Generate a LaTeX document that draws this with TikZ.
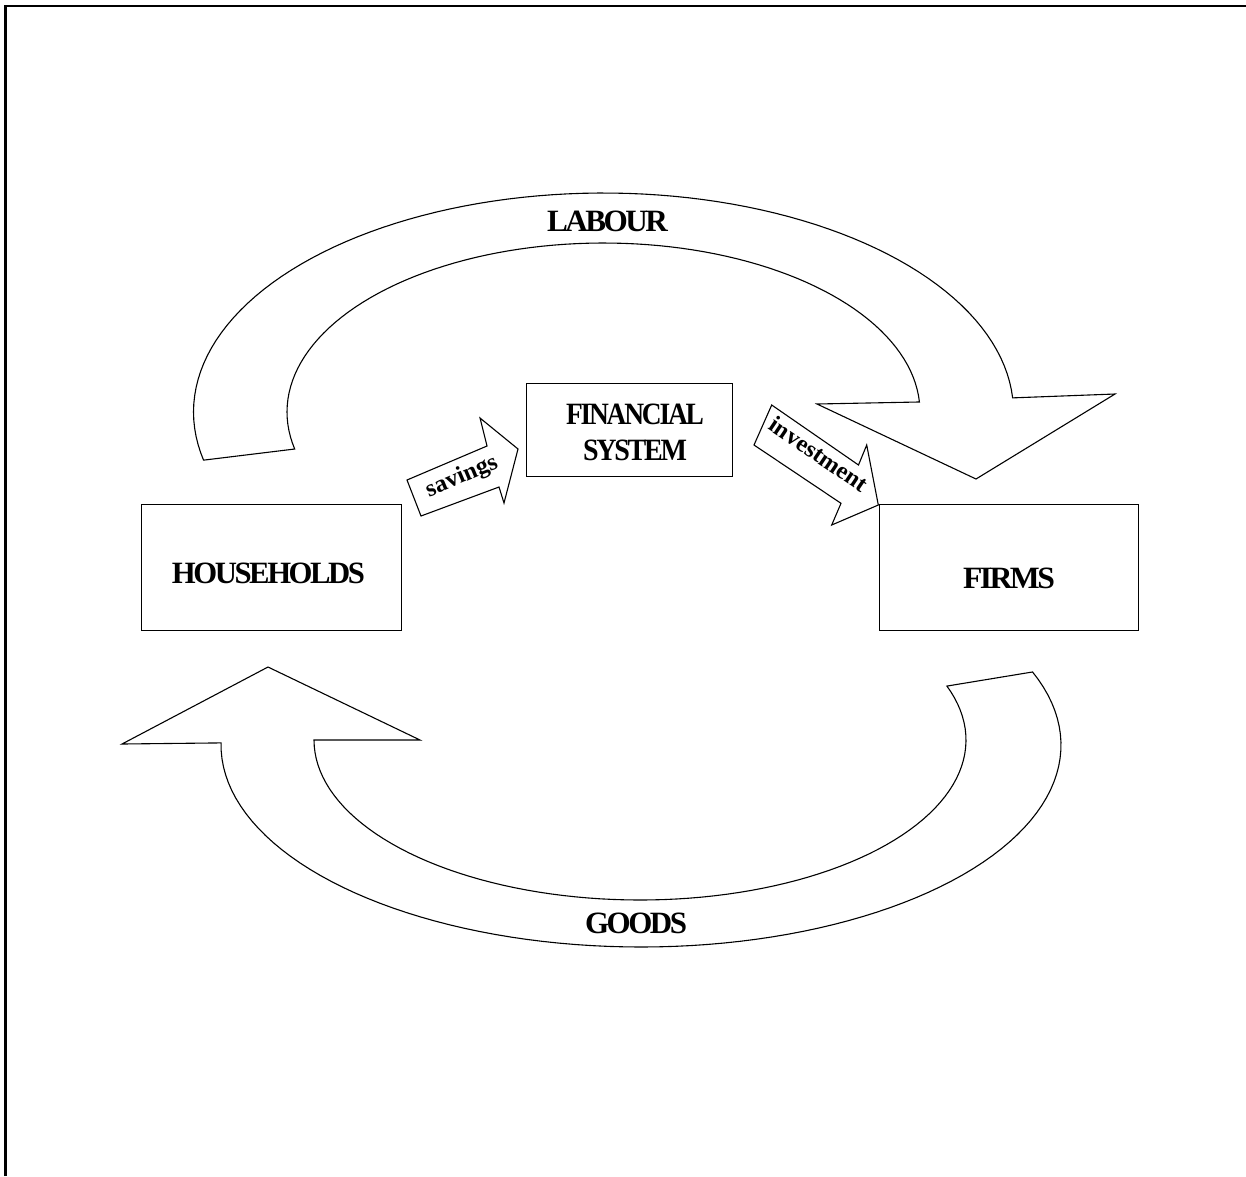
\documentclass[tikz,border=0pt]{standalone}
\usepackage{fontspec}
\setmainfont{Liberation Serif}
\usepackage{graphicx}
% bold lettering, tracked (optional argument) and fitted to a given width
\newcommand\packed[3][-8]{\resizebox{#2}{\height}{\addfontfeature{LetterSpace=#1}#3}}
\begin{document}
\begin{tikzpicture}[x=1pt,y=-1pt,
  frame/.style={line width=2.4pt},
  sector/.style={draw, line width=0.9pt, inner sep=0pt},
  blockarrow/.style={draw, fill=white, line width=1.1pt, line join=miter},
  heading/.style={font=\fontsize{31}{31}\selectfont\bfseries, inner sep=0pt},
  tag/.style={font=\fontsize{24}{24}\selectfont\bfseries, inner sep=0pt}]
\useasboundingbox (0,0) rectangle (1246,1176);

% page frame (top and left edges)
\draw[frame] (5.5,1176) -- (5.5,6) -- (1246,6);

% sectors of the economy
\node[sector, minimum width=260pt, minimum height=126pt] (hh) at (271,567) {};
\node[sector, minimum width=259pt, minimum height=126pt] (firms) at (1008.5,567) {};
\node[sector, minimum width=206pt, minimum height=93pt] (fin) at (629,429.5) {};

\node[heading] (hhlabel) at (268.5,573) {\packed{193pt}{HOUSEHOLDS}};
\node[heading] (firmslabel) at (1009,578) {\packed{92pt}{FIRMS}};
\node[heading] (finlabel1) at (635,414.5) {\packed{138pt}{FINANCIAL}};
\node[heading] (finlabel2) at (635,450.5) {\packed{104pt}{SYSTEM}};

% labour flow: households to firms
\draw[blockarrow]
  plot[domain=167.3:356.3, samples=90, variable=\t] ({603.5+410*cos(\t)}, {412+219*sin(\t)})
  -- (1115,394) -- (976,479) -- (817,404)
  -- plot[domain=356.6:167.35, samples=90, variable=\t] ({603.5+316.5*cos(\t)}, {412+169*sin(\t)})
  -- cycle;
\node[heading] (labour) at (607.5,221.5) {\packed{121pt}{LABOUR}};

% goods flow: firms to households
\draw[blockarrow]
  (122,744) -- (268,667) -- (420,740)
  -- plot[domain=180:-19.7, samples=90, variable=\t] ({640+326*cos(\t)}, {740+160*sin(\t)})
  -- plot[domain=-21.2:180.6, samples=90, variable=\t] ({641+420*cos(\t)}, {745+202*sin(\t)})
  -- cycle;
\node[heading] (goods) at (636,923) {\packed{102pt}{GOODS}};

% savings into the financial system
\draw[blockarrow] (407,480) -- (487,446) -- (480,418) -- (518,449)
  -- (504,503) -- (499,487) -- (421,516) -- cycle;
\node[tag, rotate=23] (savings) at (462,477) {\packed[0]{76pt}{savings}};

% investment out to firms
\draw[blockarrow] (771.7,405) -- (858.5,465) -- (866.7,445) -- (878.3,505)
  -- (831.7,525) -- (841,503.3) -- (754,445) -- cycle;
\node[tag, rotate=-34] (investment) at (819,454) {\packed[0]{114pt}{investment}};
\end{tikzpicture}
\end{document}
